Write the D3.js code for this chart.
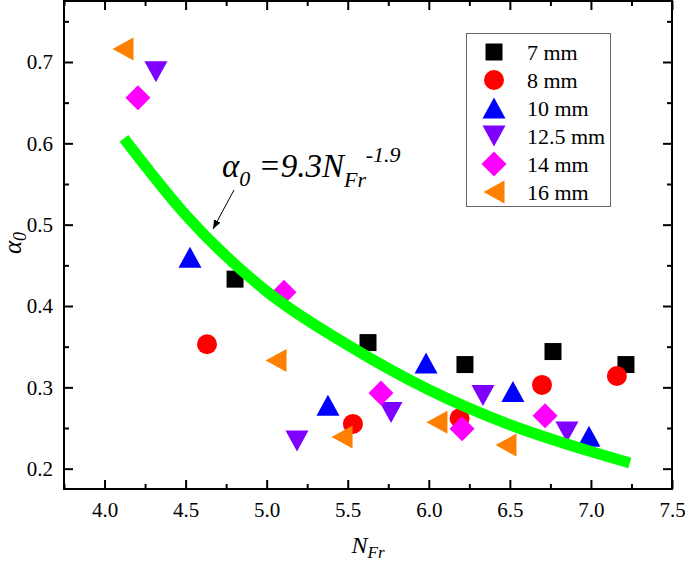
<!DOCTYPE html>
<html><head><meta charset="utf-8">
<script src="https://cdn.jsdelivr.net/npm/d3@7"></script>
<style>
body{margin:0;background:#fff}
svg{display:block}
</style>
</head><body>
<svg id="c" width="685" height="563" font-family="Liberation Serif"></svg>
<script>
// ---- data ----
const seriesNames = ["7 mm", "8 mm", "10 mm", "12.5 mm", "14 mm", "16 mm"];
const seriesColors = ["#000000", "#ff0000", "#0000ff", "#8000ff", "#ff00ff", "#ff8000"];
const seriesShapes = ["square", "circle", "up", "down", "diamond", "left"];

const x7 = [4.805, 5.625, 6.223, 6.766, 7.216];
const y7 = [0.433, 0.355, 0.328, 0.344, 0.328];
const x8 = [4.632, 5.532, 6.190, 6.698, 7.160];
const y8 = [0.353, 0.255, 0.262, 0.303, 0.314];
const x10 = [4.527, 5.378, 5.983, 6.519, 6.988];
const y10 = [0.460, 0.278, 0.330, 0.295, 0.240];
const x125 = [4.317, 5.187, 5.767, 6.334, 6.852];
const y125 = [0.688, 0.234, 0.269, 0.290, 0.245];
const x14 = [4.206, 5.107, 5.705, 6.205, 6.717];
const y14 = [0.656, 0.417, 0.293, 0.249, 0.265];
const x16 = [4.114, 5.058, 5.465, 6.050, 6.476];
const y16 = [0.716, 0.333, 0.239, 0.257, 0.229];

// fitted curve, points read along the green band
const fitX = [4.12, 4.5, 5.0, 5.5, 6.0, 6.5, 7.0, 7.24];
const fitY = [0.606, 0.512, 0.418, 0.352, 0.297, 0.254, 0.221, 0.207];

const xTicks = [4.0, 4.5, 5.0, 5.5, 6.0, 6.5, 7.0, 7.5];
const xMinor = [3.75, 4.25, 4.75, 5.25, 5.75, 6.25, 6.75, 7.25];
const yTicks = [0.2, 0.3, 0.4, 0.5, 0.6, 0.7];
const yMinor = [0.25, 0.35, 0.45, 0.55, 0.65, 0.75];

const xs = [x7, x8, x10, x125, x14, x16];
const ys = [y7, y8, y10, y125, y14, y16];

const FONT = "Liberation Serif";

// ---- layout ----
const svg = d3.select("#c");
const L = 64, R = 672, T = 1, B = 489;
const x = d3.scaleLinear([3.75, 7.5], [L, R]);
const y = d3.scaleLinear([0.175, 0.775], [B, T]);

function shapePath(type) {
  switch (type) {
    case "square": return "M-8.5,-8.5H8.5V8.5H-8.5Z";
    case "circle": return "M10,0A10,10 0 1,1 -10,0A10,10 0 1,1 10,0Z";
    case "up": return "M0,-10.5L11.5,10.5L-11.5,10.5Z";
    case "down": return "M0,10.5L11.5,-10.5L-11.5,-10.5Z";
    case "diamond": return "M0,-12.5L12.5,0L0,12.5L-12.5,0Z";
    case "left": return "M-10.5,0L10.5,-11.5L10.5,11.5Z";
  }
}

// ---- markers ----
const gPts = svg.append("g");
seriesNames.forEach((name, i) => {
  const pts = xs[i].map((v, j) => [v, ys[i][j]]);
  gPts.append("g").selectAll("path").data(pts).join("path")
    .attr("d", shapePath(seriesShapes[i]))
    .attr("transform", d => `translate(${x(d[0])},${y(d[1])})`)
    .attr("fill", seriesColors[i]);
});

// ---- fit curve ----
const fitPts = fitX.map((v, i) => [v, fitY[i]]);
svg.append("path")
  .attr("d", d3.line().x(d => x(d[0])).y(d => y(d[1])).curve(d3.curveMonotoneX)(fitPts))
  .attr("fill", "none").attr("stroke", "#00ff00").attr("stroke-width", 11)
  .attr("stroke-linecap", "butt");

// ---- axes ----
function styleAxis(g) {
  g.attr("font-family", FONT).attr("font-size", 21);
  g.select(".domain").remove();
  g.selectAll(".tick line").attr("stroke", "#000").attr("stroke-width", 2);
  g.selectAll(".tick text").attr("font-family", FONT).attr("font-size", 21).attr("fill", "#000");
}
svg.append("g").attr("transform", `translate(0,${B})`)
  .call(d3.axisBottom(x).tickValues(xTicks).tickSize(-9).tickPadding(13).tickFormat(d3.format(".1f")))
  .call(styleAxis);
svg.append("g").attr("transform", `translate(0,${B})`)
  .call(d3.axisBottom(x).tickValues(xMinor).tickSize(-5).tickFormat(""))
  .call(styleAxis);
svg.append("g").attr("transform", `translate(0,${T})`)
  .call(d3.axisTop(x).tickValues(xTicks).tickSize(-9).tickFormat(""))
  .call(styleAxis);
svg.append("g").attr("transform", `translate(0,${T})`)
  .call(d3.axisTop(x).tickValues(xMinor).tickSize(-5).tickFormat(""))
  .call(styleAxis);
svg.append("g").attr("transform", `translate(${L},0)`)
  .call(d3.axisLeft(y).tickValues(yTicks).tickSize(-9).tickPadding(11).tickFormat(d3.format(".1f")))
  .call(styleAxis);
svg.append("g").attr("transform", `translate(${L},0)`)
  .call(d3.axisLeft(y).tickValues(yMinor).tickSize(-5).tickFormat(""))
  .call(styleAxis);
svg.append("g").attr("transform", `translate(${R},0)`)
  .call(d3.axisRight(y).tickValues(yTicks).tickSize(-9).tickFormat(""))
  .call(styleAxis);
svg.append("g").attr("transform", `translate(${R},0)`)
  .call(d3.axisRight(y).tickValues(yMinor).tickSize(-5).tickFormat(""))
  .call(styleAxis);

svg.append("rect").attr("x", L).attr("y", T).attr("width", R - L).attr("height", B - T)
  .attr("fill", "none").attr("stroke", "#000").attr("stroke-width", 2);

// ---- axis titles ----
const xt = svg.append("text").attr("x", 368).attr("y", 553).attr("text-anchor", "middle")
  .attr("font-family", FONT).attr("font-size", 24).attr("font-style", "italic");
xt.append("tspan").text("N");
xt.append("tspan").attr("dy", 5).attr("font-size", 17).text("Fr");

const yt = svg.append("text").attr("transform", "translate(21,243) rotate(-90)")
  .attr("text-anchor", "middle").attr("font-family", FONT)
  .attr("font-size", 25).attr("font-style", "italic");
yt.append("tspan").text("α");
yt.append("tspan").attr("dy", 5).attr("font-size", 18).text("0");

// ---- annotation ----
const an = svg.append("text").attr("x", 222).attr("y", 177)
  .attr("font-family", FONT).attr("font-size", 33).attr("font-style", "italic");
an.append("tspan").text("α");
an.append("tspan").attr("dy", 9).attr("font-size", 22).text("0");
an.append("tspan").attr("dy", -9).text(" =9.3N");
an.append("tspan").attr("dy", 10).attr("font-size", 22).text("Fr");
an.append("tspan").attr("dy", -25).attr("font-size", 22).text("-1.9");

svg.append("defs").append("marker").attr("id", "ah")
  .attr("viewBox", "0 0 10 10").attr("refX", 10).attr("refY", 5)
  .attr("markerWidth", 9).attr("markerHeight", 9).attr("markerUnits", "userSpaceOnUse")
  .attr("orient", "auto")
  .append("path").attr("d", "M0,1L10,5L0,9Z").attr("fill", "#000");
svg.append("line").attr("x1", 234).attr("y1", 190).attr("x2", 213).attr("y2", 229)
  .attr("stroke", "#000").attr("stroke-width", 1).attr("marker-end", "url(#ah)");

// ---- legend ----
const lg = svg.append("g");
lg.append("rect").attr("x", 466.5).attr("y", 33.5).attr("width", 144).attr("height", 173)
  .attr("fill", "#fff").attr("stroke", "#666").attr("stroke-width", 1);
seriesNames.forEach((name, i) => {
  const cy = 52 + i * 28;
  lg.append("path").attr("d", shapePath(seriesShapes[i]))
    .attr("transform", `translate(494,${cy})`).attr("fill", seriesColors[i]);
  lg.append("text").attr("x", 527).attr("y", cy).attr("dy", "0.35em")
    .attr("font-family", FONT).attr("font-size", 22).text(name);
});
</script>
</body></html>
